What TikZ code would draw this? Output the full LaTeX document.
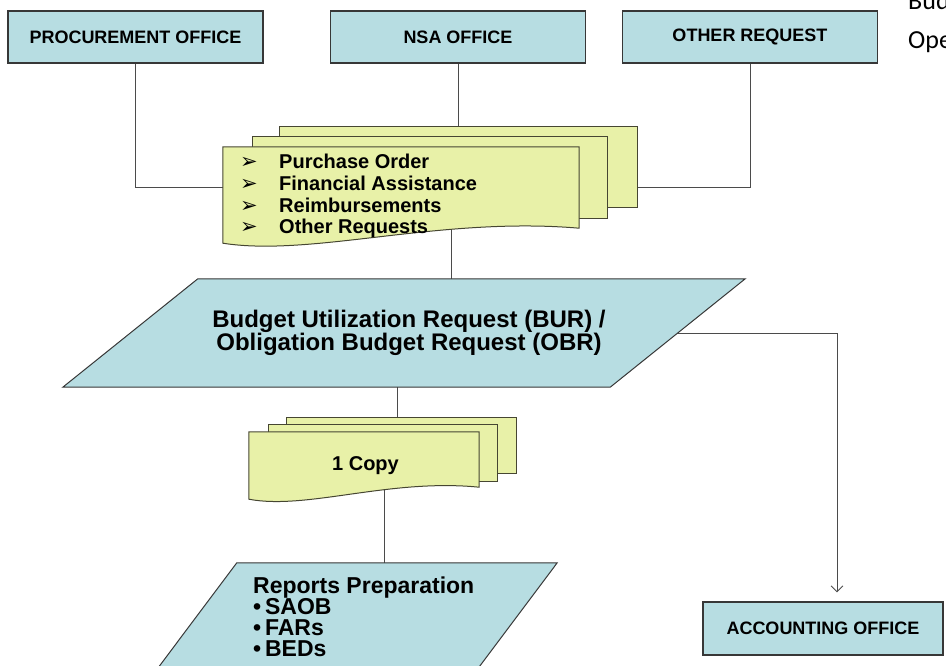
\documentclass[tikz,border=0pt]{standalone}
\usepackage{fontspec}
\setmainfont{Liberation Sans}
\newfontfamily\symfont{DejaVu Sans}
\newfontfamily\notefont{Carlito}
\usetikzlibrary{backgrounds,arrows.meta}
\definecolor{boxblue}{RGB}{183,221,226}
\definecolor{docyellow}{RGB}{232,241,168}
\definecolor{edgegray}{RGB}{55,55,55}
\definecolor{docedge}{RGB}{70,70,50}
\definecolor{wiregray}{RGB}{75,75,75}
\newcommand{\arrowbul}{\makebox[39pt][l]{\symfont\bfseries\fontsize{21}{21}\selectfont ➢}}

\begin{document}
\begin{tikzpicture}[x=1pt,y=-1pt,
  office/.style={draw=edgegray,line width=1.1pt,fill=boxblue,minimum width=255pt,minimum height=52pt,inner sep=0pt,font=\bfseries\fontsize{18}{20}\selectfont},
  paper/.style={draw=docedge,line width=1pt,fill=docyellow,inner sep=0pt},
  frame/.style={inner sep=0pt},
  wire/.style={draw=wiregray,line width=0.9pt}]
\useasboundingbox (0,0) rectangle (946,665);
\clip (0,0) rectangle (946,665);

\node[office] (proc) at (135.5,37) {PROCUREMENT OFFICE};
\node[office] (nsa) at (458,37) {NSA OFFICE};
\node[office] (other) at (750,37) {OTHER REQUEST};
\node[office,minimum width=240pt,minimum height=53pt] (acct) at (823,628.5) {ACCOUNTING OFFICE};

\node[anchor=base west,inner sep=0pt,font=\notefont\fontsize{26}{28}\selectfont] (bud) at (908,9) {Bud};
\node[anchor=base west,inner sep=0pt,font=\notefont\fontsize{26}{28}\selectfont] (ope) at (908,48) {Ope};

% requests
\node[paper,minimum width=358pt,minimum height=81pt] (reqs3) at (458,166.5) {};
\node[paper,minimum width=355pt,minimum height=82pt] (reqs2) at (429.5,177) {};
\node[frame,minimum width=356pt,minimum height=81pt] (reqs) at (401,187.5) {};
\filldraw[fill=docyellow,draw=docedge,line width=1pt] (reqs.north west) -- (reqs.north east) -- (reqs.south east)
  .. controls +(-140,-12) and +(90,14) .. ([yshift=-15pt]reqs.south west) -- cycle;
\node[anchor=west,align=left,inner sep=0pt,font=\bfseries\fontsize{20}{21.7}\selectfont] (reqlist) at (240,196)
  {\arrowbul Purchase Order\\\arrowbul Financial Assistance\\\arrowbul Reimbursements\\\arrowbul Other Requests};

% BUR / OBR
\node[frame,minimum width=412pt,minimum height=108pt] (bur) at (404,333) {};
\filldraw[fill=boxblue,draw=edgegray,line width=1pt] (bur.north west) -- ([xshift=135pt]bur.north east)
  -- (bur.south east) -- ([xshift=-135pt]bur.south west) -- cycle;
\node[align=center,font=\bfseries\fontsize{24}{21}\selectfont] (burtext) at (409,333)
  {Budget Utilization Request (BUR) /\\Obligation Budget Request (OBR)};

% copy
\node[paper,minimum width=230pt,minimum height=56pt] (copy3) at (401,445) {};
\node[paper,minimum width=229pt,minimum height=57pt] (copy2) at (382.5,452.5) {};
\node[frame,minimum width=230pt,minimum height=55pt] (copy) at (364,459.5) {};
\filldraw[fill=docyellow,draw=docedge,line width=1pt] (copy.north west) -- (copy.north east) -- (copy.south east)
  .. controls +(-90,-9) and +(58,11) .. ([yshift=-12pt]copy.south west) -- cycle;
\node[font=\bfseries\fontsize{20}{22}\selectfont] (copytext) at (365.5,466) {1 Copy};

% reports
\node[frame,minimum width=217pt,minimum height=137pt] (rep) at (345.5,631.5) {};
\filldraw[fill=boxblue,draw=edgegray,line width=1pt] (rep.north west) -- ([xshift=103pt]rep.north east)
  -- (rep.south east) -- ([xshift=-103pt]rep.south west) -- cycle;
\node[anchor=west,align=left,inner sep=0pt,font=\bfseries\fontsize{23}{21}\selectfont] (reptext) at (253,616.5)
  {Reports Preparation\\\textbullet\,SAOB\\\textbullet\,FARs\\\textbullet\,BEDs};

\begin{pgfonlayer}{background}
\draw[wire] (proc) |- (reqs);
\draw[wire] (nsa) -- (nsa |- reqs3.north);
\draw[wire] (other) |- (reqs);
\draw[wire] ([xshift=50pt]reqs.center) -- ([xshift=50pt]reqs.center |- bur.center);
\draw[wire] ([xshift=-4pt]copy3.center |- bur.center) -- ([xshift=-4pt]copy3.center);
\draw[wire] ([xshift=20pt]copy.center) -- ([xshift=20pt]copy.center |- rep.center);
\draw[wire,-{Straight Barb[length=6pt,width=12pt]}] (bur.east) -| ([xshift=14pt,yshift=9pt]acct.north);
\end{pgfonlayer}
\end{tikzpicture}
\end{document}
